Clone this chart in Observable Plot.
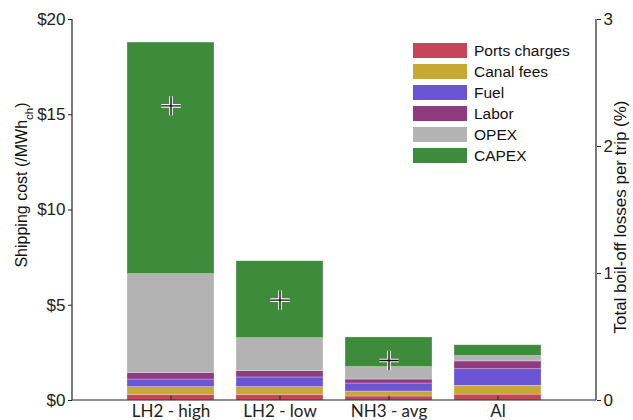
<!DOCTYPE html>
<html>
<head>
<meta charset="utf-8">
<script src="https://cdn.jsdelivr.net/npm/d3@7"></script>
<script src="https://cdn.jsdelivr.net/npm/@observablehq/plot@0.6"></script>
<style>
  html, body { margin: 0; padding: 0; background: #fff; }
  #wrap { position: relative; width: 633px; height: 420px; overflow: hidden; }
  #legend { position: absolute; left: 413px; top: 40px; font-family: "Liberation Sans", Arial, sans-serif; font-size: 15.5px; color: #111; }
  .row { display: flex; align-items: center; height: 21px; }
  .sw { width: 54px; height: 15px; margin-right: 7px; }
</style>
</head>
<body>
<div id="wrap"><div id="legend"></div></div>
<script>
const categories = ["LH2 - high", "LH2 - low", "NH3 - avg", "Al"];
const components = ["Ports charges", "Canal fees", "Fuel", "Labor", "OPEX", "CAPEX"];
const colors = ["#c5455a", "#c6a833", "#6a55d5", "#923a7f", "#b3b3b3", "#3f8b3c"];
const ports = [0.30, 0.30, 0.21, 0.31];
const canal = [0.40, 0.40, 0.26, 0.46];
const fuel  = [0.40, 0.51, 0.42, 0.87];
const labor = [0.35, 0.33, 0.21, 0.41];
const opex  = [5.18, 1.73, 0.65, 0.28];
const capex = [12.16, 4.04, 1.56, 0.57];
const boiloff = [2.32, 0.79, 0.315, null];
const costTicks = [0, 5, 10, 15, 20];
const boilTicks = [0, 1, 2, 3];

const series = [ports, canal, fuel, labor, opex, capex];
const table = [];
categories.forEach((c, i) => components.forEach((k, j) => table.push({cat: c, comp: k, value: series[j][i]})));
const boilData = categories.map((c, i) => ({cat: c, b: boiloff[i]})).filter(d => d.b != null);
const k = 20 / 3; // right axis (0..3 %) mapped onto left axis (0..$20)

const W = 633, H = 420, mL = 72, mR = 37, mT = 19, mB = 20;

const plot = Plot.plot({
  width: W, height: H,
  marginLeft: mL, marginRight: mR, marginTop: mT, marginBottom: mB,
  style: {fontFamily: "Liberation Sans, Arial, sans-serif", background: "white", color: "#222"},
  x: {domain: categories, paddingInner: 0.2, paddingOuter: 0.49, label: null},
  y: {domain: [0, 20], label: null},
  color: {domain: components, range: colors},
  marks: [
    Plot.barY(table, Plot.stackY({x: "cat", y: "value", fill: "comp", order: components, stroke: "white", strokeOpacity: 0.45, strokeWidth: 0.6})),
    Plot.ruleX(categories, {x: d => d, y1: 0, y2: 0.22, stroke: "#333", strokeWidth: 1.2}),
    Plot.dot(boilData, {x: "cat", y: d => d.b * k, symbol: "plus", r: 6.3, stroke: "white", strokeWidth: 3.6}),
    Plot.dot(boilData, {x: "cat", y: d => d.b * k, symbol: "plus", r: 6.3, stroke: "#111", strokeWidth: 1.4}),
    Plot.axisY({ticks: costTicks, tickFormat: d => "$" + d, tickSize: 4, tickPadding: 3, fontSize: 17, label: null}),
    Plot.axisY({anchor: "right", ticks: boilTicks.map(d => d * k), tickFormat: d => String(Math.round(d / k)), tickSize: 4, tickPadding: 3, fontSize: 17, label: null}),
    Plot.axisX({tickSize: 0, tickPadding: 4, fontSize: 17, fontFamily: "Lato, sans-serif", label: null})
  ]
});

const svg = d3.select(plot);
const g = svg.append("g").attr("stroke", "#222").attr("stroke-width", 1.2);
g.append("line").attr("x1", mL).attr("x2", mL).attr("y1", mT).attr("y2", H - mB);
g.append("line").attr("x1", W - mR).attr("x2", W - mR).attr("y1", mT).attr("y2", H - mB);
g.append("line").attr("x1", mL).attr("x2", W - mR).attr("y1", H - mB).attr("y2", H - mB);

const lab = svg.append("text")
  .attr("transform", `translate(27,185) rotate(-90)`)
  .attr("text-anchor", "middle").attr("font-size", 16).attr("fill", "#111")
  .attr("font-family", "Liberation Sans, Arial, sans-serif");
lab.append("tspan").text("Shipping cost (/MWh");
lab.append("tspan").attr("font-size", 11.5).attr("dy", 6).text("ch");
lab.append("tspan").attr("dy", -6).text(")");

svg.append("text")
  .attr("transform", `translate(626,217) rotate(-90)`)
  .attr("text-anchor", "middle").attr("font-size", 17).attr("fill", "#111")
  .attr("font-family", "Liberation Sans, Arial, sans-serif")
  .text("Total boil-off losses per trip (%)");

document.getElementById("wrap").prepend(plot);
const legend = document.getElementById("legend");
components.forEach((c, i) => {
  const r = document.createElement("div"); r.className = "row";
  const s = document.createElement("div"); s.className = "sw"; s.style.background = colors[i];
  const t = document.createElement("span"); t.textContent = c;
  r.append(s, t); legend.append(r);
});
</script>
</body>
</html>
